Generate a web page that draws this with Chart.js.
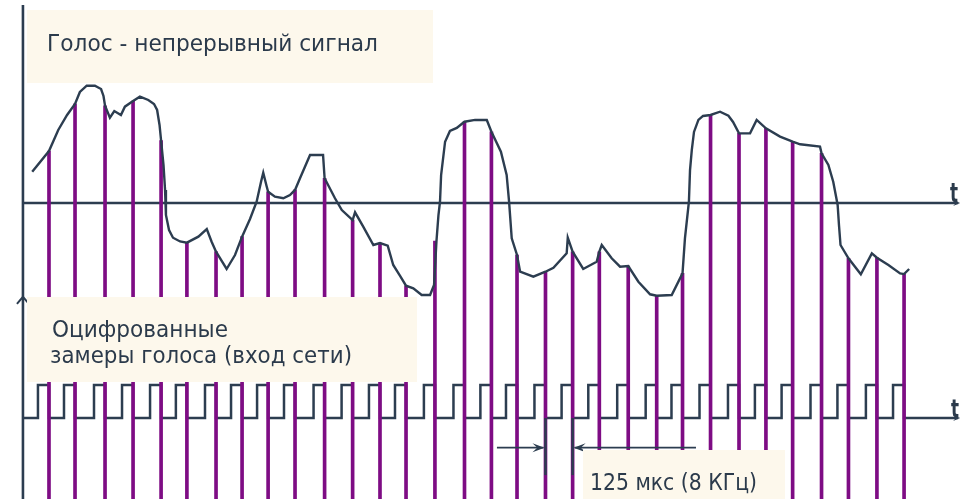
<!DOCTYPE html>
<html><head><meta charset="utf-8">
<style>html,body{margin:0;padding:0;background:#fff;overflow:hidden}</style>
<script src="https://cdn.jsdelivr.net/npm/chart.js@4.4.1/dist/chart.umd.min.js"></script>
</head><body>
<canvas id="c" width="961" height="499"></canvas>
<script>
// ---- data (time in microseconds, amplitude in arbitrary units) ----
const sampleT = [0,118,254,381,508,625,757,875,993,1115,1249,1376,1500,1618,1749,1883,2005,2121,2250,2373,2494,2625,2754,2871,2998,3127,3249,3370,3501,3623,3752,3875];
const sampleV = [44.2,84.2,82.7,86.7,53,-33.7,-41.4,-28.6,9.6,11.1,21,-14.5,-34,-70.3,-32.3,69.1,60.6,-44.2,-58.4,-41.4,-41.4,-53.6,-78.8,-59.8,74.8,59.2,63.5,52.1,42.2,-47,-46.5,-60.4];
const curveT = [-76,0,42,82,118,140,171,208,236,247,254,276,296,326,344,381,412,450,476,490,501,508,519,526,530,544,562,594,625,677,715,737,757,805,843,875,911,941,961,971,986,993,1024,1062,1092,1115,1138,1183,1242,1249,1296,1327,1376,1387,1424,1470,1500,1535,1560,1591,1618,1651,1689,1727,1745,1756,1765,1772,1777,1795,1817,1848,1883,1931,1984,2005,2048,2074,2085,2097,2121,2135,2195,2250,2286,2346,2351,2373,2421,2482,2494,2505,2550,2588,2625,2671,2724,2754,2822,2871,2882,2900,2905,2913,2923,2943,2964,2998,3041,3079,3100,3127,3177,3207,3249,3313,3370,3404,3494,3501,3532,3554,3574,3580,3587,3623,3679,3729,3752,3804,3857,3875,3898];
const curveV = [26.6,44.2,62.1,74.8,84.2,94.4,99.7,99.7,96.9,91,82.7,72.5,78.2,74.8,81.9,86.7,90.4,87.6,84.2,79.1,66.3,53,32.3,11.1,-10.2,-23,-29.5,-32.7,-33.7,-28.6,-22.1,-32.9,-41.4,-56.1,-44.2,-28.6,-13.6,1.1,18.1,25.8,14.5,9.6,5.4,4,6.8,11.1,21.3,40.8,40.8,21,4,-6,-14.5,-7.9,-20.1,-35.7,-34,-36.3,-52.7,-62,-70.3,-72.5,-78.2,-78.2,-69.7,-32.3,-10.2,1.1,23.8,52.1,61.2,63.8,69.1,70.6,70.6,60.6,43.6,23.8,1.1,-30,-44.2,-58.4,-62.6,-58.4,-55,-42.8,-29.5,-41.4,-56.1,-49.9,-41.4,-35.7,-47,-54.1,-53.6,-66.9,-77.6,-78.8,-78.2,-59.8,-30,1.1,28,45,60.4,70.6,74,74.8,77.6,74.2,68.9,59.2,59.2,70.6,63.5,56.4,52.1,49.9,47.9,42.2,32.3,18.1,-1.7,-18.7,-35.7,-47,-60.6,-42.8,-46.5,-52.7,-59.8,-60.4,-56.1];
const pulseWidth = 50;          // µs, width of each sampling pulse
const periodFrom = 18, periodTo = 19;   // samples marked by the 125 µs dimension
const arrowTails = [2030, 2932];
const texts = {
  title: 'Голос - непрерывный сигнал',
  digital1: 'Оцифрованные',
  digital2: 'замеры голоса (вход сети)',
  period: '125 мкс (8 КГц)',
  axis: 't'
};

// ---- scale ranges ----
const X_MIN = -222, X_MAX = 4133;
const Y_MIN = -251.6, Y_MAX = 172.55;
const D_MIN = -2.4545, D_MAX = 12.667;
const AXIS_START = -118, AXIS_END = 4120;

const ink = '#2C3D50';
const purple = '#7E0C84';
const paper = '#FDF8EC';

const curveData = curveT.map((t,i)=>({x:t, y:curveV[i]}));
const sampleData = sampleT.map((t,i)=>({x:t, y:[Y_MIN, sampleV[i]]}));
const pulseData = [{x:AXIS_START, y:0}];
sampleT.forEach(t=>{
  pulseData.push({x:t-pulseWidth,y:0},{x:t-pulseWidth,y:1},{x:t,y:1},{x:t,y:0});
});
pulseData.push({x:AXIS_END, y:0});

function fitText(ctx, txt, x, base, w, font){
  ctx.font = font;
  const m = ctx.measureText(txt).width;
  ctx.save();
  ctx.translate(x, base);
  ctx.scale(w/m, 1);
  ctx.fillText(txt, 0, 0);
  ctx.restore();
}
function arrowHead(ctx, tx, ty, dir, len, half){
  ctx.beginPath();
  ctx.moveTo(tx, ty);
  ctx.lineTo(tx - dir*len, ty - half);
  ctx.lineTo(tx - dir*len*0.6, ty);
  ctx.lineTo(tx - dir*len, ty + half);
  ctx.closePath();
  ctx.fill();
}

const annot = {
  id: 'annot',
  afterDatasetsDraw(chart){
    const {ctx, scales:{x, y, yd}} = chart;
    ctx.save();
    // dimension lines for the sampling period
    ctx.strokeStyle = ink; ctx.fillStyle = ink; ctx.lineWidth = 2.5;
    const y0 = yd.getPixelForValue(0), y1 = yd.getPixelForValue(-1.73), ya = yd.getPixelForValue(-0.9);
    const xa = x.getPixelForValue(sampleT[periodFrom]), xb = x.getPixelForValue(sampleT[periodTo]);
    [xa, xb].forEach(px=>{ ctx.beginPath(); ctx.moveTo(px, y0); ctx.lineTo(px, y1); ctx.stroke(); });
    ctx.lineWidth = 1.8;
    ctx.beginPath(); ctx.moveTo(x.getPixelForValue(arrowTails[0]), ya); ctx.lineTo(xa-2, ya); ctx.stroke();
    ctx.beginPath(); ctx.moveTo(x.getPixelForValue(arrowTails[1]), ya); ctx.lineTo(xb+2, ya); ctx.stroke();
    arrowHead(ctx, xa-1, ya, 1, 12, 4.5);
    arrowHead(ctx, xb+1, ya, -1, 12, 4.5);

    // axis arrowheads
    const xe = x.getPixelForValue(AXIS_END);
    arrowHead(ctx, xe+2, y.getPixelForValue(0), 1, 7, 3);
    arrowHead(ctx, xe+2, y0, 1, 7, 3);
    const xs = x.getPixelForValue(AXIS_START), yArr = yd.getPixelForValue(3.67);
    ctx.lineWidth = 2;
    ctx.beginPath(); ctx.moveTo(xs-6, yArr+7); ctx.lineTo(xs, yArr); ctx.lineTo(xs+6, yArr+7); ctx.stroke();

    // label boxes
    ctx.fillStyle = paper;
    ctx.fillRect(27, 10, 406, 73);
    ctx.fillRect(27, 297, 390, 85);
    ctx.fillRect(583, 450, 202, 49);

    ctx.fillStyle = '#2B3A4B';
    ctx.textBaseline = 'alphabetic';
    const F = '23px "DejaVu Sans"';
    fitText(ctx, texts.title, 47, 51, 331, F);
    fitText(ctx, texts.digital1, 52, 337, 176, F);
    fitText(ctx, texts.digital2, 50, 363, 302, F);
    fitText(ctx, texts.period, 590, 490, 167, F);
    fitText(ctx, texts.axis, 950, y.getPixelForValue(0)-1, 8, 'bold 27px "DejaVu Sans"');
    fitText(ctx, texts.axis, 951, y0-1, 8, 'bold 25px "DejaVu Sans"');
    ctx.restore();
  }
};

new Chart(document.getElementById('c'), {
  type: 'line',
  data: {
    datasets: [
      { label:'ось t', data:[{x:AXIS_START,y:0},{x:AXIS_END,y:0}], yAxisID:'y',
        borderColor:ink, borderWidth:2.6, pointRadius:0, order:6 },
      { label:'ось', data:[{x:AXIS_START,y:168.3},{x:AXIS_START,y:Y_MIN}], yAxisID:'y',
        borderColor:ink, borderWidth:2.6, pointRadius:0, order:6 },
      { label:'импульсы', data:pulseData, yAxisID:'yd',
        borderColor:ink, borderWidth:2.5, pointRadius:0, order:5, borderJoinStyle:'miter' },
      { type:'bar', label:'замеры', data:sampleData, yAxisID:'y',
        backgroundColor:purple, borderWidth:0, barThickness:3, order:2 },
      { label:'голос', data:curveData, yAxisID:'y',
        borderColor:ink, borderWidth:2.4, pointRadius:0, order:1, tension:0 }
    ]
  },
  options: {
    responsive:false, animation:false, events:[],
    layout:{padding:0},
    plugins:{legend:{display:false}, tooltip:{enabled:false}, title:{display:false}},
    scales:{
      x:{type:'linear', min:X_MIN, max:X_MAX, display:false, offset:false},
      y:{type:'linear', min:Y_MIN, max:Y_MAX, display:false},
      yd:{type:'linear', min:D_MIN, max:D_MAX, display:false}
    }
  },
  plugins:[annot]
});
</script>
</body></html>
